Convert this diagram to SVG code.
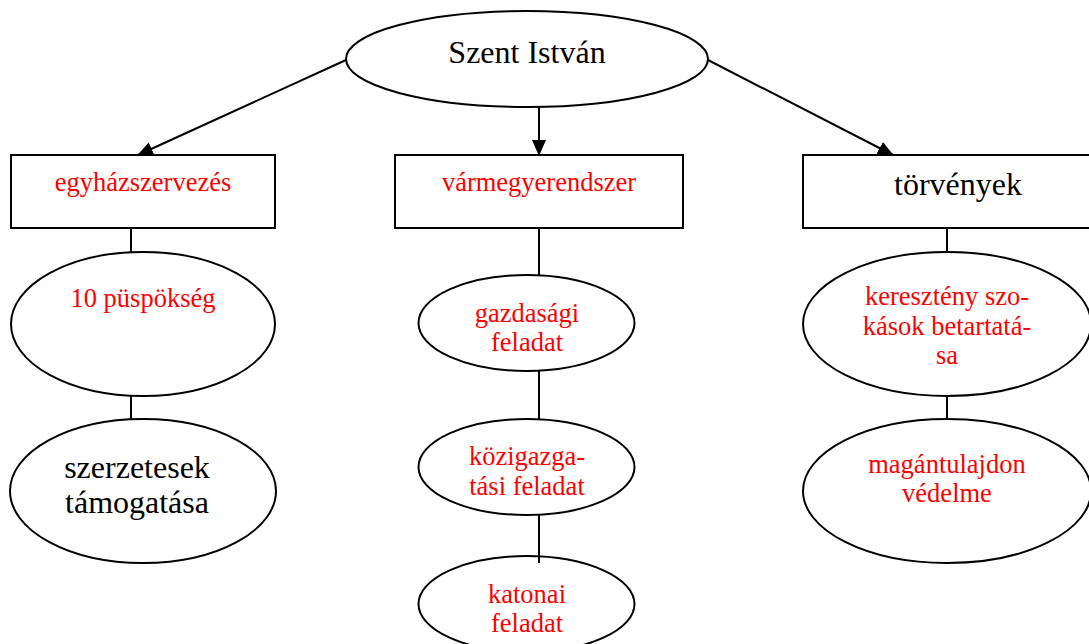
<svg xmlns="http://www.w3.org/2000/svg" width="1089" height="644" viewBox="0 0 1089 644">
<defs>
<style>
.n{fill:#fff;stroke:#000;stroke-width:2}
.c{stroke:#000;stroke-width:2;fill:none}
.t{font-family:"Liberation Serif","Times New Roman",serif;text-anchor:middle}
.r{fill:#ff0000;font-size:26.5px}
.b{fill:#000;font-size:32px}
</style>
<marker id="ah" markerUnits="userSpaceOnUse" markerWidth="16" markerHeight="16" viewBox="0 0 16 16" refX="15" refY="8" orient="auto">
<path d="M0,1 L16,8 L0,15 Z" fill="#000"/>
</marker>
</defs>
<rect width="1089" height="644" fill="#fff"/>
<g id="szent-istvan">
<ellipse class="n" cx="527" cy="59" rx="181" ry="48"/>
<text class="t b" x="527" y="63">Szent István</text>
</g>
<g id="egyhazszervezes">
<rect class="n" x="11" y="155" width="264" height="73"/>
<text class="t r" x="143" y="191">egyházszervezés</text>
</g>
<g id="varmegyerendszer">
<rect class="n" x="395" y="155" width="288" height="73"/>
<text class="t r" x="539" y="191">vármegyerendszer</text>
</g>
<g id="torvenyek">
<rect class="n" x="803" y="155" width="300" height="73"/>
<text class="t b" x="958" y="195">törvények</text>
</g>
<g id="puspokseg">
<ellipse class="n" cx="143" cy="324" rx="132" ry="72"/>
<text class="t r" x="143" y="307">10 püspökség</text>
</g>
<g id="szerzetesek">
<ellipse class="n" cx="143" cy="491" rx="133" ry="72"/>
<text class="t b" x="137" y="478">szerzetesek</text>
<text class="t b" x="137" y="513">támogatása</text>
</g>
<g id="gazdasagi">
<ellipse class="n" cx="526.5" cy="323" rx="108" ry="48"/>
<text class="t r" x="527" y="322">gazdasági</text>
<text class="t r" x="527" y="351">feladat</text>
</g>
<g id="kozigazgatasi">
<ellipse class="n" cx="526.5" cy="467" rx="108" ry="48"/>
<text class="t r" x="527" y="465">közigazga-</text>
<text class="t r" x="527" y="495">tási feladat</text>
</g>
<g id="katonai">
<ellipse class="n" cx="526.5" cy="604" rx="108" ry="48"/>
<text class="t r" x="527" y="603">katonai</text>
<text class="t r" x="527" y="632">feladat</text>
</g>
<g id="kereszteny">
<ellipse class="n" cx="947" cy="324" rx="144" ry="72"/>
<text class="t r" x="947" y="305">keresztény szo-</text>
<text class="t r" x="947" y="335">kások betartatá-</text>
<text class="t r" x="947" y="364">sa</text>
</g>
<g id="magantulajdon">
<ellipse class="n" cx="947" cy="491" rx="144" ry="72"/>
<text class="t r" x="947" y="473">magántulajdon</text>
<text class="t r" x="947" y="502">védelme</text>
</g>
<g id="connectors">
<line class="c" x1="346" y1="60" x2="138" y2="155" marker-end="url(#ah)"/>
<line class="c" x1="539" y1="107" x2="539" y2="155" marker-end="url(#ah)"/>
<line class="c" x1="708" y1="60" x2="893" y2="155" marker-end="url(#ah)"/>
<line class="c" x1="131" y1="228" x2="131" y2="252"/>
<line class="c" x1="131" y1="396" x2="131" y2="419"/>
<line class="c" x1="539" y1="228" x2="539" y2="275"/>
<line class="c" x1="539" y1="371" x2="539" y2="419"/>
<line class="c" x1="539" y1="515" x2="539" y2="563"/>
<line class="c" x1="947" y1="228" x2="947" y2="252"/>
<line class="c" x1="947" y1="396" x2="947" y2="419"/>
</g>
</svg>
